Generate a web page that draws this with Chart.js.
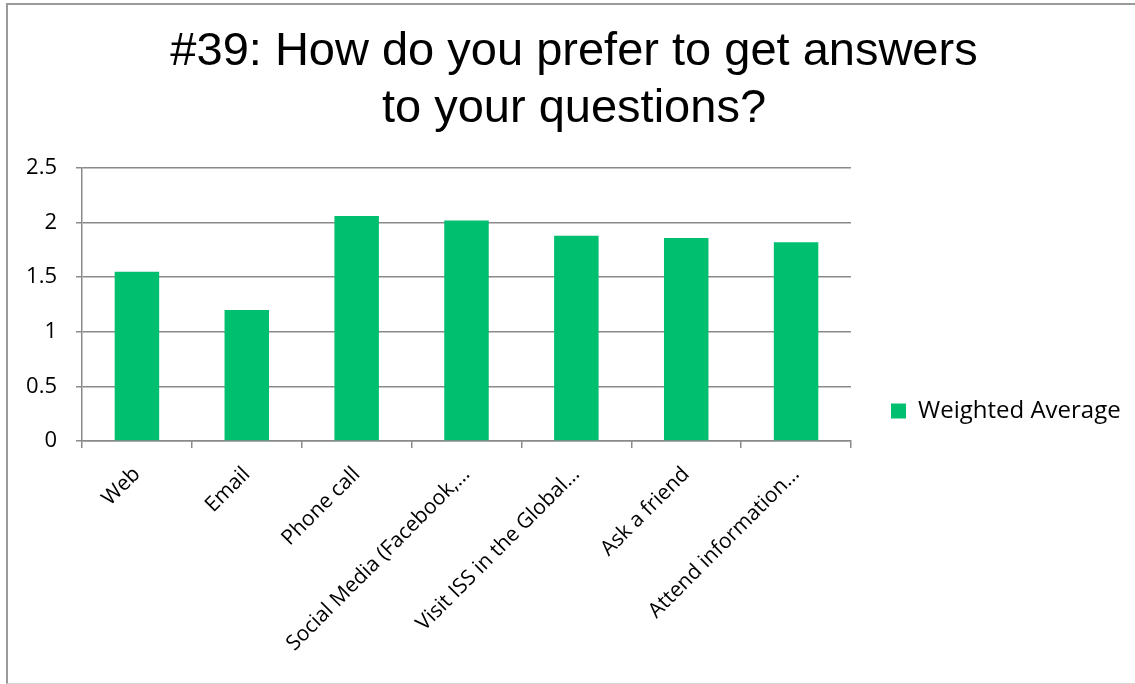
<!DOCTYPE html>
<html>
<head>
<meta charset="utf-8">
<title>#39: How do you prefer to get answers to your questions?</title>
<script src="https://cdn.jsdelivr.net/npm/chart.js@4.4.1/dist/chart.umd.min.js"></script>
<style>
  html, body { margin: 0; padding: 0; background: #fff; overflow: hidden; }
  #wrap { position: relative; width: 1135px; height: 684px; }
  #grafico { position: absolute; left: 0; top: 0; }
  #marco {
    position: absolute; left: 6px; top: 3px; width: 1129px; height: 678px;
    border-left: 2px solid #9a9a9a; border-top: 2px solid #9a9a9a; border-bottom: 1px solid #d4d4d4;
    pointer-events: none;
  }
</style>
</head>
<body>
<div id="wrap">
  <canvas id="grafico" width="1135" height="684"></canvas>
  <div id="marco"></div>
</div>
<script>
// Datos del grafico
const categorias = ['Web', 'Email', 'Phone call', 'Social Media (Facebook,…', 'Visit ISS in the Global…', 'Ask a friend', 'Attend information…'];
const promedios = [1.55, 1.2, 2.06, 2.02, 1.88, 1.86, 1.82];
const etiquetasY = ['0', '0.5', '1', '1.5', '2', '2.5'];
const tituloLineas = ['#39: How do you prefer to get answers', 'to your questions?'];
const serie = 'Weighted Average';

const verde = '#00bf6f';
const gris = '#8a8a8a';
const fuente = "'Open Sans', sans-serif";

const ctx = document.getElementById('grafico').getContext('2d');

const chart = new Chart(ctx, {
    type: 'bar',
    data: {
        labels: categorias,
        datasets: [{
            label: serie,
            data: promedios,
            backgroundColor: verde,
            borderWidth: 0,
            barPercentage: 0.405,
            categoryPercentage: 1
        }]
    },
    options: {
        responsive: false,
        animation: false,
        layout: {
            padding: { left: 20, right: 7, top: 0, bottom: 0 }
        },
        plugins: {
            title: {
                display: true,
                text: tituloLineas,
                color: '#000',
                font: { family: "'Liberation Sans', Arial, sans-serif", size: 47, weight: 'normal', lineHeight: 1.213 },
                padding: { top: 24, bottom: 30 }
            },
            legend: {
                position: 'right',
                // titulo vacio solo para bajar la leyenda a su sitio
                title: { display: true, text: '', padding: { top: 124, bottom: 0 }, font: { size: 10, lineHeight: 1.4 } },
                labels: {
                    boxWidth: 15,
                    boxHeight: 15,
                    padding: 40,
                    color: '#000',
                    font: { family: fuente, size: 24 }
                }
            },
            tooltip: { enabled: false }
        },
        scales: {
            y: {
                min: 0,
                max: 2.5,
                afterFit: (s) => { s.width = 62; },
                ticks: {
                    stepSize: 0.5,
                    color: '#000',
                    padding: 19,
                    font: { family: fuente, size: 22 },
                    callback: (v, i) => etiquetasY[i]
                },
                grid: {
                    color: gris,
                    lineWidth: 1.5,
                    tickLength: 6
                },
                border: { color: gris, width: 1.5 }
            },
            x: {
                afterFit: (s) => { s.height = 243; },
                ticks: {
                    color: '#000',
                    minRotation: 45,
                    maxRotation: 45,
                    autoSkip: false,
                    padding: 14,
                    font: { family: fuente, size: 21 }
                },
                grid: {
                    drawOnChartArea: false,
                    color: gris,
                    lineWidth: 1.5,
                    tickLength: 7
                },
                border: { color: gris, width: 1.5 }
            }
        }
    }
});
</script>
</body>
</html>
